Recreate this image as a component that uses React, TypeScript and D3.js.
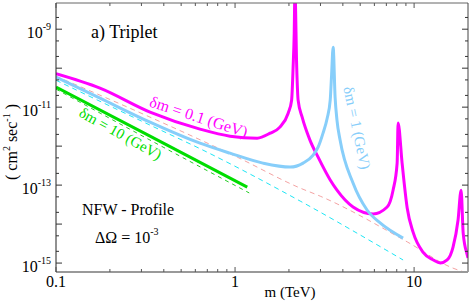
import React from 'react';
import * as d3 from 'd3';

type Pt = [number, number];

// m (TeV), sigma v (cm^2 sec^-1)
const dm01: Pt[] = [
  [0.1, 7.2e-11], [0.176, 3.07e-11], [0.335, 7.45e-12], [0.637, 2.73e-12],
  [0.937, 1.8e-12], [1.33, 1.6e-12], [1.57, 2.15e-12], [1.78, 3.07e-12],
  [1.98, 7.0e-12], [2.07, 1.51e-11], [2.11, 1.06e-10], [2.14, 7.9e-10],
  [2.16, 1e-8], [2.21, 1.06e-10], [2.25, 1.51e-11], [2.37, 5.55e-12],
  [2.62, 1.43e-12], [2.91, 5.2e-13], [3.4, 1.35e-13], [3.71, 7.4e-14],
  [4.56, 2.74e-14], [5.9, 1.82e-14], [7.07, 2.74e-14], [7.63, 7.4e-14],
  [8.04, 3.67e-13], [8.14, 3.9e-12], [8.57, 3.67e-13], [9.15, 2.6e-14],
  [9.87, 6.2e-15], [11.2, 1.91e-15], [12.8, 1.2e-15], [14.0, 1.0e-15],
  [15.3, 1.2e-15], [16.5, 2.57e-15], [17.6, 1.27e-14], [18.3, 7.4e-14],
  [18.8, 5.9e-15], [19.8, 1.62e-15], [20, 1.35e-15],
];

const dm1: Pt[] = [
  [0.1, 5.9e-11], [0.176, 1.7e-11], [0.335, 4.12e-12], [0.637, 1.19e-12],
  [0.937, 6.6e-13], [1.43, 3.67e-13], [2.03, 2.9e-13], [2.4, 3.67e-13],
  [2.73, 5.9e-13], [2.91, 9.4e-13], [3.1, 2.15e-12], [3.27, 5.2e-12],
  [3.4, 1.51e-11], [3.46, 6.6e-11], [3.53, 3.45e-10], [3.62, 1.82e-11],
  [3.71, 4.6e-12], [3.86, 1.43e-12], [4.56, 1.13e-13], [5.46, 2.3e-14],
  [6.46, 1.07e-14], [8.68, 4.37e-15],
];

const dm10: Pt[] = [[0.1, 3.26e-11], [0.335, 1.8e-12], [1.17, 8.9e-14]];
const dm10Dash: Pt[] = [[0.1, 2.9e-11], [0.335, 1.43e-12], [1.2, 6.3e-14]];

const pinkDash: Pt[] = [
  [0.1, 6.2e-11], [0.335, 5.55e-12], [1.03, 5.2e-13], [2.31, 8.4e-14],
  [2.99, 5.2e-14], [9.15, 3.5e-15], [16.5, 7.4e-16], [20, 5.5e-16],
];
const cyanDash: Pt[] = [
  [0.1, 4.9e-11], [0.335, 3.46e-12], [0.662, 7.9e-13], [2.31, 3.9e-14],
  [8.68, 1.2e-15],
];

const yLabels = [-15, -13, -11, -9];
const xLabels = [0.1, 1, 10];

const W = 471;
const H = 301;
const L = 56, R = 468, T = 3, B = 272;
const font = '"Liberation Serif", "Times New Roman", serif';

export default function App() {
  const x = d3.scaleLog().domain([0.1, 20]).range([L, R]);
  const y = d3.scaleLog().domain([5.9e-16, 4.7e-9]).range([B, T]);
  const line = d3
    .line<Pt>()
    .x((d) => x(d[0]))
    .y((d) => y(d[1]))
    .curve(d3.curveMonotoneX);

  const xMajor = [0.1, 1, 10];
  const xMinor: number[] = [];
  [0.1, 1, 10].forEach((b) => {
    for (let k = 2; k <= 9; k++) if (b * k < 20) xMinor.push(b * k);
  });
  const yMajor: number[] = [];
  const yMinor: number[] = [];
  for (let e = -15; e <= -9; e++) {
    yMajor.push(Math.pow(10, e));
    [2, 5].forEach((k) => {
      const v = k * Math.pow(10, e);
      if (v < 4.7e-9) yMinor.push(v);
    });
  }

  return (
    <svg width={W} height={H} style={{ position: 'absolute', left: 0, top: 0, background: '#fff' }} fontFamily={font}>
      <defs>
        <clipPath id="plot">
          <rect x={L} y={T} width={R - L} height={B - T} />
        </clipPath>
      </defs>

      <g clipPath="url(#plot)" fill="none">
        <path d={line(pinkDash) ?? ''} stroke="#f4a3a3" strokeWidth={1} strokeDasharray="5,4" />
        <path d={line(cyanDash) ?? ''} stroke="#1ee6f5" strokeWidth={1} strokeDasharray="5,4" />
        <path d={line(dm10Dash) ?? ''} stroke="#22cc22" strokeWidth={1} strokeDasharray="4,4" />
        <path d={line(dm10) ?? ''} stroke="#00dd00" strokeWidth={3} />
        <path d={line(dm01) ?? ''} stroke="#ff00ff" strokeWidth={3} strokeLinejoin="round" />
        <path d={line(dm1) ?? ''} stroke="#87cefa" strokeWidth={3} strokeLinejoin="round" />
      </g>

      {/* frame */}
      <line x1={L} x2={R} y1={T} y2={T} stroke="#666" />
      <line x1={R} x2={R} y1={T} y2={B} stroke="#444" />
      <line x1={L} x2={R} y1={B} y2={B} stroke="#999" strokeWidth={2} />
      <line x1={L} x2={L} y1={T} y2={B} stroke="#222" />

      {/* x ticks */}
      {xMajor.map((v) => (
        <g key={'xM' + v} stroke="#555">
          <line x1={x(v)} x2={x(v)} y1={B} y2={B - 5} />
          <line x1={x(v)} x2={x(v)} y1={T} y2={T + 5} />
        </g>
      ))}
      {xMinor.map((v) => (
        <g key={'xm' + v} stroke="#555">
          <line x1={x(v)} x2={x(v)} y1={B} y2={B - 3} />
          <line x1={x(v)} x2={x(v)} y1={T} y2={T + 3} />
        </g>
      ))}
      {/* y ticks */}
      {yMajor.map((v) => (
        <g key={'yM' + v} stroke="#333">
          <line x1={L} x2={L + 6} y1={y(v)} y2={y(v)} />
          <line x1={R} x2={R - 6} y1={y(v)} y2={y(v)} />
        </g>
      ))}
      {yMinor.map((v) => (
        <g key={'ym' + v} stroke="#333">
          <line x1={L} x2={L + 3} y1={y(v)} y2={y(v)} />
          <line x1={R} x2={R - 3} y1={y(v)} y2={y(v)} />
        </g>
      ))}

      {/* tick labels */}
      {yLabels.map((e) => (
        <text key={'yl' + e} x={51} y={y(Math.pow(10, e)) + 9} textAnchor="end" fontSize={16} fill="#000">
          10<tspan fontSize={10} dy={-8}>{String(e)}</tspan>
        </text>
      ))}
      {xLabels.map((v) => (
        <text key={'xl' + v} x={x(v)} y={287} textAnchor="middle" fontSize={16} fill="#000">
          {String(v)}
        </text>
      ))}

      {/* axis titles */}
      <text x={290} y={297} textAnchor="middle" fontSize={15} fill="#000">m (TeV)</text>
      <text transform="translate(17,142) rotate(-90)" textAnchor="middle" fontSize={16} fill="#000">
        ( cm<tspan fontSize={10} dy={-7}>2</tspan>
        <tspan dy={7}> sec</tspan>
        <tspan fontSize={10} dy={-7}>-1</tspan>
        <tspan dy={7}> )</tspan>
      </text>

      {/* annotations */}
      <text x={91} y={38} fontSize={18} fill="#000">a) Triplet</text>
      <text x={82} y={215} fontSize={16} fill="#000">NFW - Profile</text>
      <text x={95} y={243} fontSize={16} fill="#000">
        ΔΩ = 10<tspan fontSize={10} dy={-8}>-3</tspan>
      </text>

      <text transform="translate(197,122) rotate(18)" textAnchor="middle" fontSize={16} fill="#ff00ff">
        δm = 0.1 (GeV)
      </text>
      <text transform="translate(118,138) rotate(29)" textAnchor="middle" fontSize={15} fill="#00dd00">
        δm = 10 (GeV)
      </text>
      <text transform="translate(352,129) rotate(78)" textAnchor="middle" fontSize={15} fill="#87cefa">
        δm = 1 (GeV)
      </text>
    </svg>
  );
}
